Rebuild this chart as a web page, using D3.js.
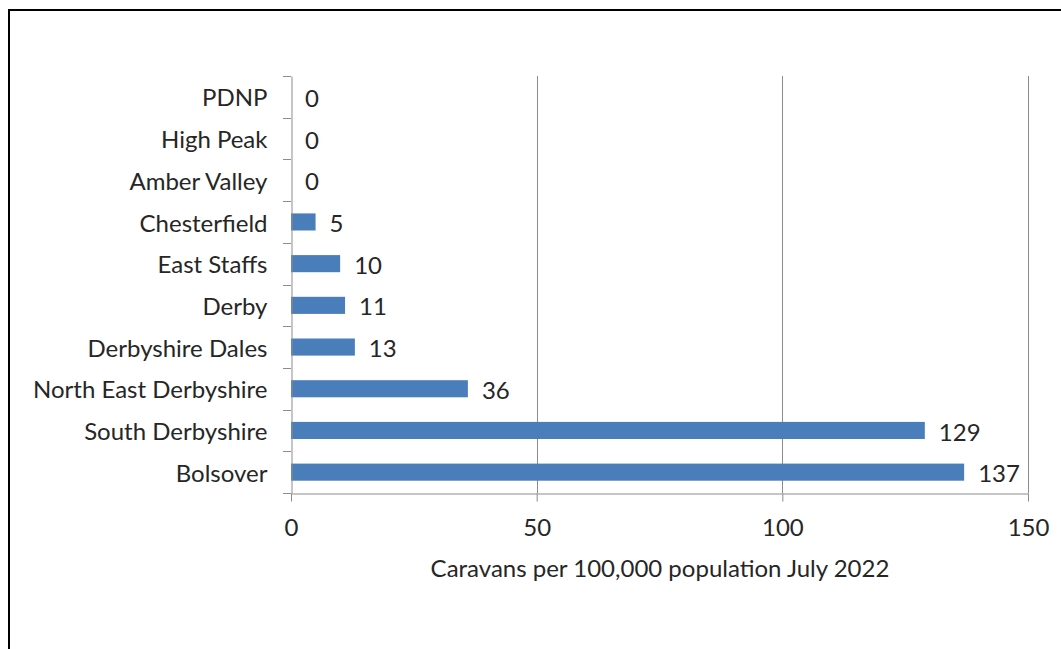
<!DOCTYPE html>
<html><head><meta charset="utf-8">
<script src="https://cdn.jsdelivr.net/npm/d3@7"></script>
<style>html,body{margin:0;padding:0;background:#fff;}svg{display:block;}</style>
</head><body>
<svg id="chart" width="1061" height="649"></svg>
<script>
const categories = ["PDNP","High Peak","Amber Valley","Chesterfield","East Staffs","Derby","Derbyshire Dales","North East Derbyshire","South Derbyshire","Bolsover"];
const values = [0,0,0,5,10,11,13,36,129,137];
const xTicks = [0,50,100,150];
const xTitle = "Caravans per 100,000 population July 2022";

(function(){
const svg = d3.select("#chart");
const font = "Lato, 'Open Sans', sans-serif";
const fs = 24;
const textColor = "#262626";
const pL = 291, pR = 1028, pT = 76, pB = 493;

// frame
svg.append("path").attr("d","M9,649 V10 H1061").attr("fill","none").attr("stroke","#000").attr("stroke-width",2);

const x = d3.scaleLinear().domain([0,150]).range([pL,pR]);
const y = d3.scaleBand().domain(categories).range([pT,pB]).paddingInner(0.59).paddingOuter(0.295);
const yb = d3.scaleBand().domain(categories).range([pT,pB]);

// gridlines
svg.append("g").selectAll("line").data(xTicks.filter(d=>d>0)).join("line")
  .attr("x1",d=>Math.round(x(d))+0.5).attr("x2",d=>Math.round(x(d))+0.5)
  .attr("y1",pT).attr("y2",pB).attr("stroke","#8c8c8c").attr("stroke-width",1);

// bars
svg.append("g").selectAll("rect").data(categories).join("rect")
  .attr("x",pL).attr("y",d=>y(d)).attr("height",y.bandwidth())
  .attr("width",(d,i)=>x(values[i])-pL).attr("fill","#4a7ebb");

// y axis
const yAxis = d3.axisLeft(yb).tickSize(0).tickPadding(24);
const gy = svg.append("g").attr("transform",`translate(${pL+0.5},0)`).call(yAxis);
gy.select(".domain").attr("stroke","#8c8c8c");
gy.selectAll("text").attr("font-family",font).attr("font-size",fs).attr("fill",textColor).attr("dy","0.4em");
// category boundary ticks
svg.append("g").selectAll("line").data(categories.concat(["_end"])).join("line")
  .attr("x1",pL-8).attr("x2",pL)
  .attr("y1",(d,i)=>Math.round(pT+i*yb.step())+0.5).attr("y2",(d,i)=>Math.round(pT+i*yb.step())+0.5)
  .attr("stroke","#8c8c8c");

// x axis
const xAxis = d3.axisBottom(x).tickValues(xTicks).tickSize(8).tickPadding(17).tickSizeOuter(0);
const gx = svg.append("g").attr("transform",`translate(0,${pB+0.5})`).call(xAxis);
gx.select(".domain").attr("stroke","#8c8c8c");
gx.selectAll(".tick line").attr("stroke","#8c8c8c");
gx.selectAll("text").attr("font-family",font).attr("font-size",fs).attr("fill",textColor);

// value labels
svg.append("g").selectAll("text").data(categories).join("text")
  .attr("x",(d,i)=>x(values[i])+14).attr("y",d=>y(d)+y.bandwidth()/2)
  .attr("dy","0.42em").attr("font-family",font).attr("font-size",fs).attr("fill",textColor)
  .text((d,i)=>values[i]);

// axis title
svg.append("text").attr("x",660).attr("y",577).attr("text-anchor","middle")
  .attr("font-family",font).attr("font-size",fs).attr("fill",textColor).text(xTitle);
})();
</script>
</body></html>
